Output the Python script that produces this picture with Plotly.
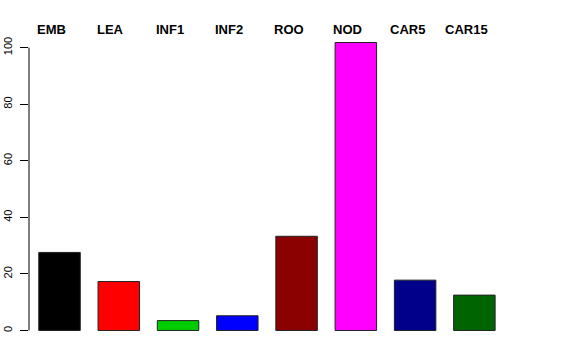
import plotly.graph_objects as go

categories = ["EMB", "LEA", "INF1", "INF2", "ROO", "NOD", "CAR5", "CAR15"]
values = [27.6, 17.3, 3.5, 5.2, 33.3, 101.8, 17.8, 12.5]
bar_colors = ["#000000", "#FF0000", "#00CD00", "#0000FF", "#8B0000", "#FF00FF", "#00008B", "#006400"]
y_ticks = [0, 20, 40, 60, 80, 100]

idx = list(range(len(categories)))

fig = go.Figure()
fig.add_trace(go.Bar(
    x=idx, y=values, width=0.7,
    marker=dict(color=bar_colors, line=dict(color="#222222", width=1)),
    showlegend=False, hoverinfo="skip",
))

for i, c in zip(idx, categories):
    fig.add_annotation(
        x=i, y=1, xref="x", yref="paper", text="<b>%s</b>" % c,
        showarrow=False, xanchor="center", yanchor="middle",
        xshift=-8, yshift=2,
        font=dict(family="Liberation Sans, Arial, sans-serif", size=13, color="black"),
    )

fig.add_shape(type="line", xref="paper", yref="y", x0=0, x1=0,
              y0=min(y_ticks), y1=max(y_ticks), line=dict(color="black", width=1))

ymax = max(values)
pad = 0.04 * ymax
fig.update_layout(
    width=576, height=360,
    margin=dict(l=29, r=72, t=31, b=17.5, pad=0),
    paper_bgcolor="white", plot_bgcolor="white",
    xaxis=dict(range=[-0.515, 7.5], showticklabels=False, showgrid=False, automargin=False,
               zeroline=False, showline=False, ticks=""),
    yaxis=dict(range=[-pad, ymax + pad], tickvals=y_ticks, ticktext=[str(v) for v in y_ticks],
               tickangle=-90, ticks="outside", ticklen=8, tickwidth=1, tickcolor="black",
               showgrid=False, zeroline=False, showline=False, ticklabelstandoff=4,
               automargin=False,
               tickfont=dict(family="Liberation Sans, Arial, sans-serif", size=11, color="black")),
    font=dict(family="Liberation Sans, Arial, sans-serif"),
)

fig.write_html("out.html")
